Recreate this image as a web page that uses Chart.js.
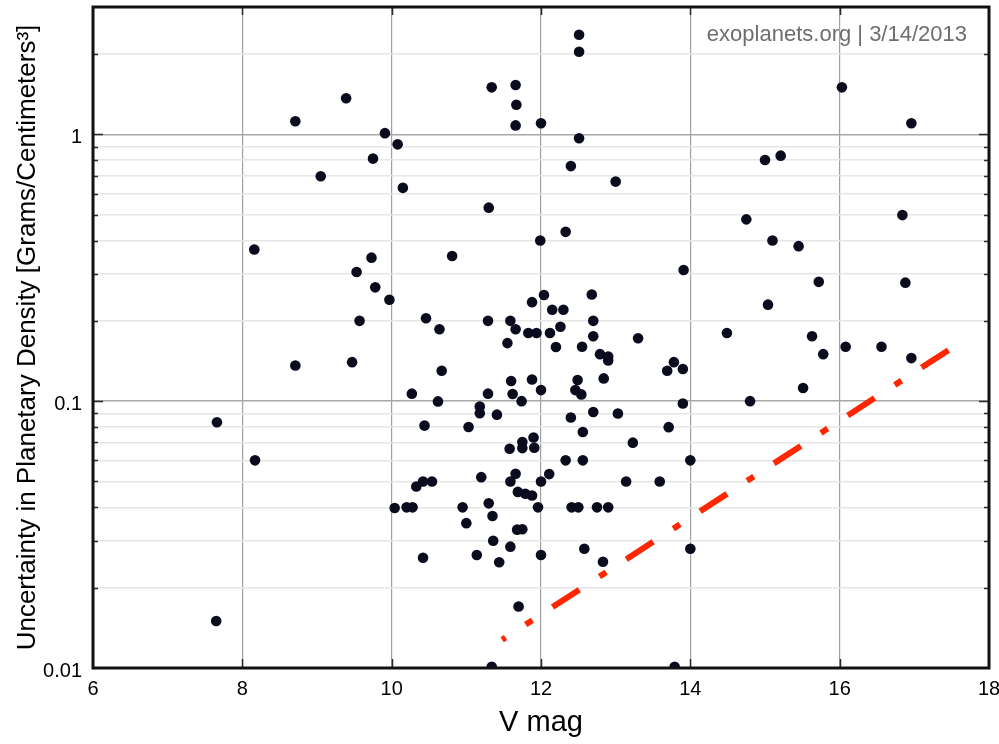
<!DOCTYPE html>
<html>
<head>
<meta charset="utf-8">
<script src="https://cdn.jsdelivr.net/npm/chart.js@4.4.0/dist/chart.umd.min.js"></script>
<style>
html,body{margin:0;padding:0;background:#ffffff;}
#wrap{width:999px;height:744px;position:relative;}
</style>
</head>
<body>
<div id="wrap"><canvas id="c" width="999" height="744"></canvas></div>
<script>
// ---- data ----
const vMag = [
  12.51, 12.51, 11.34, 11.66, 11.67, 11.66, 12.00, 12.51, 12.40, 13.00,
  9.91, 10.08, 9.39, 8.71, 9.75, 9.05, 10.15, 11.30, 8.16, 9.73,
  9.53, 9.78, 9.97, 9.57, 10.81, 10.46, 10.64, 11.29, 8.71, 9.47,
  10.67, 16.03, 16.96, 15.00, 15.21, 14.75, 15.10, 15.45, 16.84, 15.72,
  16.88, 15.04, 14.49, 15.63, 15.78, 16.08, 16.56, 16.96, 11.99, 12.33,
  13.91, 13.30, 12.04, 11.88, 12.15, 12.30, 12.68, 12.70, 12.70, 11.59,
  11.66, 11.83, 11.94, 12.12, 12.26, 11.55, 12.20, 12.55, 12.79, 12.90,
  12.90, 13.78, 13.69, 13.90, 11.60, 11.88, 12.49, 12.84, 10.27, 10.62,
  11.29, 11.62, 11.74, 12.00, 11.18, 11.18, 11.41, 12.46, 12.54, 13.90,
  14.80, 12.70, 13.03, 12.40, 15.51, 10.44, 11.03, 11.90, 11.75, 11.75,
  11.91, 11.58, 12.56, 13.71, 13.23, 12.33, 12.56, 14.00, 11.66, 11.59,
  12.11, 12.00, 11.20, 10.54, 10.42, 10.33, 11.69, 11.79, 11.88, 10.04,
  10.20, 10.28, 10.95, 11.30, 11.96, 11.35, 11.00, 11.68, 11.75, 11.36,
  11.59, 11.14, 11.44, 12.00, 10.42, 12.41, 12.50, 12.75, 12.90, 13.14,
  13.59, 12.58, 14.00, 12.83, 11.70, 11.34, 13.79, 7.66, 8.17, 7.65
];
const densityUncertainty = [
  2.36, 2.04, 1.50, 1.53, 1.29, 1.08, 1.10, 0.966, 0.760, 0.665,
  1.01, 0.917, 1.365, 1.12, 0.811, 0.696, 0.630, 0.531, 0.370, 0.345,
  0.305, 0.267, 0.240, 0.200, 0.350, 0.2045, 0.186, 0.200, 0.136, 0.140,
  0.130, 1.50, 1.10, 0.801, 0.832, 0.480, 0.400, 0.381, 0.498, 0.280,
  0.278, 0.230, 0.180, 0.175, 0.150, 0.160, 0.160, 0.145, 0.400, 0.431,
  0.310, 0.172, 0.250, 0.235, 0.220, 0.220, 0.251, 0.200, 0.175, 0.200,
  0.186, 0.180, 0.180, 0.180, 0.190, 0.165, 0.1595, 0.160, 0.150, 0.147,
  0.142, 0.140, 0.130, 0.132, 0.119, 0.1205, 0.120, 0.1217, 0.1067, 0.0998,
  0.1067, 0.1064, 0.100, 0.110, 0.0954, 0.0901, 0.0890, 0.110, 0.106, 0.098,
  0.100, 0.0911, 0.0899, 0.0869, 0.112, 0.0810, 0.0800, 0.0731, 0.0703, 0.0667,
  0.0669, 0.0663, 0.0766, 0.0799, 0.0699, 0.060, 0.060, 0.060, 0.0534, 0.050,
  0.0533, 0.050, 0.0519, 0.050, 0.050, 0.0479, 0.0457, 0.0450, 0.0443, 0.0398,
  0.040, 0.040, 0.040, 0.0414, 0.040, 0.0371, 0.0349, 0.0330, 0.0331, 0.030,
  0.0285, 0.0265, 0.0249, 0.0265, 0.0259, 0.040, 0.040, 0.040, 0.040, 0.050,
  0.050, 0.0280, 0.0280, 0.0250, 0.0170, 0.0101, 0.0101, 0.0834, 0.060, 0.0150
];
// dash-dot reference line (two end points)
const trendV = [11.48, 17.46];
const trendUncertainty = [0.01276, 0.1555];

// ---- ticks ----
const xTickValues = [6, 8, 10, 12, 14, 16, 18];
const yLabeledTicks = [0.01, 0.1, 1];
const yGridValues = [
  0.01, 0.02, 0.03, 0.04, 0.05, 0.06, 0.07, 0.08, 0.09,
  0.1, 0.2, 0.3, 0.4, 0.5, 0.6, 0.7, 0.8, 0.9,
  1, 2, 3
];
const watermarkText = 'exoplanets.org | 3/14/2013';
const xTitle = 'V mag';
const yTitle = 'Uncertainty in Planetary Density [Grams/Centimeters\u00B3]';

const FONT = '"Liberation Sans", Arial, Helvetica, sans-serif';
const isDecade = v => Math.abs(Math.log10(v) - Math.round(Math.log10(v))) < 1e-6;

const framePlugin = {
  id: 'frame',
  beforeDatasetsDraw(chart) {
    const {ctx} = chart;
    ctx.save();
    ctx.font = '22px ' + FONT;
    ctx.fillStyle = '#6e6e6e';
    ctx.textAlign = 'right';
    ctx.textBaseline = 'alphabetic';
    ctx.fillText(watermarkText, 967, 41);
    ctx.restore();
  },
  afterDatasetsDraw(chart) {
    const {ctx, chartArea: a, scales} = chart;
    ctx.save();
    ctx.strokeStyle = '#2a2a2a';
    ctx.lineWidth = 1.5;
    ctx.beginPath();
    xTickValues.forEach(v => {
      if (v <= scales.x.min || v >= scales.x.max) return;
      const px = Math.round(scales.x.getPixelForValue(v)) + 0.5;
      ctx.moveTo(px, a.bottom); ctx.lineTo(px, a.bottom - 9);
      ctx.moveTo(px, a.top); ctx.lineTo(px, a.top + 8);
    });
    yGridValues.forEach(v => {
      if (v <= scales.y.min || v >= scales.y.max) return;
      const py = Math.round(scales.y.getPixelForValue(v)) + 0.5;
      const len = isDecade(v) ? 10 : 5;
      ctx.moveTo(a.left, py); ctx.lineTo(a.left + len, py);
      ctx.moveTo(a.right, py); ctx.lineTo(a.right - len, py);
    });
    ctx.stroke();
    ctx.strokeStyle = '#111111';
    ctx.lineWidth = 3;
    ctx.strokeRect(a.left, a.top, a.right - a.left, a.bottom - a.top);
    ctx.restore();
  }
};

const points = vMag.map((v, i) => ({x: v, y: densityUncertainty[i]}));
const trend = trendV.map((v, i) => ({x: v, y: trendUncertainty[i]}));

new Chart(document.getElementById('c'), {
  type: 'scatter',
  data: {
    datasets: [
      {
        type: 'scatter',
        data: points,
        pointRadius: 5.3,
        pointHoverRadius: 5.3,
        pointBackgroundColor: '#0b0b1e',
        pointBorderWidth: 0,
        showLine: false,
        clip: 0
      },
      {
        type: 'line',
        data: trend,
        borderColor: 'rgb(255,38,0)',
        borderWidth: 6,
        borderDash: [32, 24, 8, 24],
        borderDashOffset: 28,
        borderCapStyle: 'butt',
        pointRadius: 0,
        fill: false,
        tension: 0
      }
    ]
  },
  options: {
    responsive: false,
    animation: false,
    devicePixelRatio: 1,
    layout: {padding: {top: 7, right: 10, left: 0, bottom: 0}},
    plugins: {legend: {display: false}, tooltip: {enabled: false}},
    scales: {
      x: {
        type: 'linear',
        position: 'bottom',
        min: 6, max: 18,
        afterBuildTicks: s => { s.ticks = xTickValues.map(v => ({value: v})); },
        afterFit: s => { s.height = 76; s.paddingLeft = 0; s.paddingRight = 0; },
        grid: {color: '#a0a0a0', lineWidth: 1.2, drawTicks: false},
        border: {display: false},
        ticks: {
          font: {family: FONT, size: 20}, color: '#000000',
          padding: 9, maxRotation: 0, autoSkip: false,
          callback: v => String(v)
        },
        title: {
          display: true, text: xTitle, color: '#000000',
          font: {family: FONT, size: 29}, padding: {top: 0, bottom: 4}
        }
      },
      y: {
        type: 'logarithmic',
        position: 'left',
        min: 0.01, max: 3,
        afterBuildTicks: s => { s.ticks = yGridValues.map(v => ({value: v})); },
        afterFit: s => { s.width = 93; s.paddingTop = 0; s.paddingBottom = 0; },
        grid: {
          color: c => (c.tick && isDecade(c.tick.value)) ? '#a8a8a8' : '#e6e6e6',
          lineWidth: 1.6,
          drawTicks: false
        },
        border: {display: false},
        ticks: {
          font: {family: FONT, size: 20}, color: '#000000',
          padding: 11, autoSkip: false, labelOffset: 3,
          callback: v => yLabeledTicks.some(t => Math.abs(t - v) < 1e-9) ? String(v) : ''
        },
        title: {
          display: true, text: yTitle, color: '#000000',
          font: {family: FONT, size: 26}, padding: {top: 12, bottom: 0}
        }
      }
    }
  },
  plugins: [framePlugin]
});
</script>
</body>
</html>
